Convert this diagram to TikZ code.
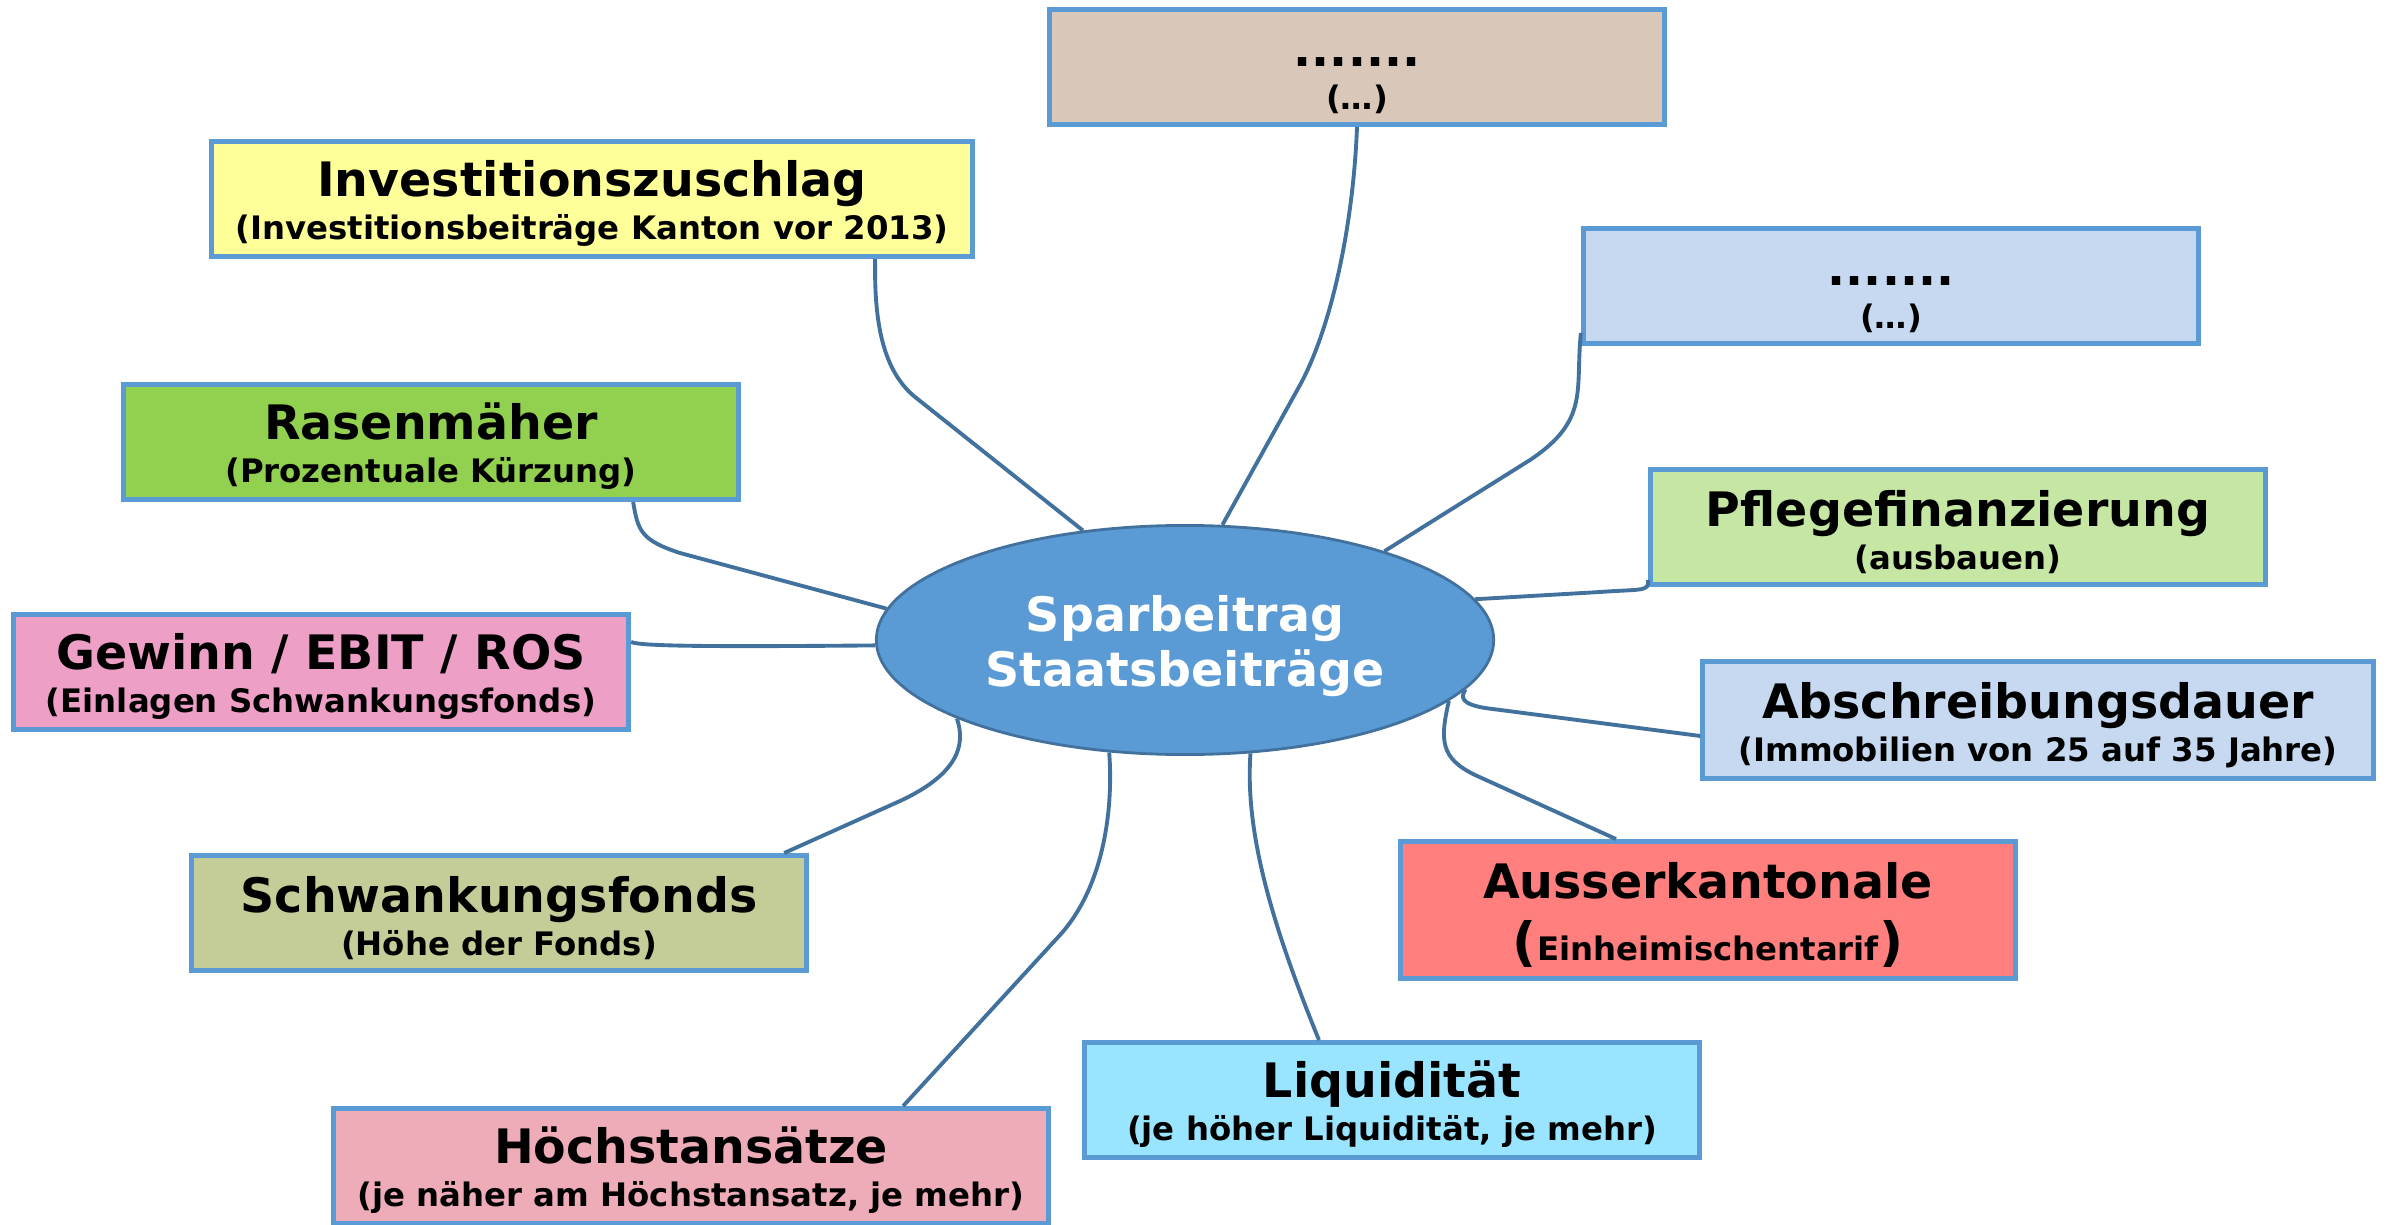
\documentclass[tikz,border=0pt]{standalone}
\usepackage{fontspec}
\setmainfont{DejaVu Sans}
\usepackage{tikz}
\usetikzlibrary{shapes.geometric}
\definecolor{boxblue}{HTML}{5B9BD5}
\definecolor{linkblue}{HTML}{41719C}
\definecolor{hubblue}{HTML}{5B9BD5}
\definecolor{brownbox}{HTML}{D9C7B9}
\definecolor{yellowbox}{HTML}{FFFF99}
\definecolor{paleblue}{HTML}{C6D9F0}
\definecolor{grassgreen}{HTML}{92D050}
\definecolor{palegreen}{HTML}{C6E6A4}
\definecolor{rosebox}{HTML}{EE9FC6}
\definecolor{olivebox}{HTML}{C4CD97}
\definecolor{redbox}{HTML}{FF7F7F}
\definecolor{cyanbox}{HTML}{99E5FF}
\definecolor{pinkbox}{HTML}{EDACB7}
\newcommand{\headline}[1]{{\fontsize{13.5}{14}\selectfont\rule{0pt}{13pt}#1}}
\newcommand{\bigparen}[1]{{\fontsize{15}{15}\selectfont #1}}
\tikzset{
    topic/.style={draw=boxblue, line width=1.4pt, align=center, inner sep=0pt,
        minimum width=6.15cm, minimum height=1.15cm,
        font=\fontsize{9.2}{12.2}\selectfont\bfseries},
    hub/.style={ellipse, draw=linkblue, line width=0.8pt, fill=hubblue, text=white,
        minimum width=6.17cm, minimum height=2.29cm, inner sep=0pt, align=center,
        font=\fontsize{13.5}{15.9}\selectfont\bfseries},
    link/.style={draw=linkblue, line width=1.1pt},
}

\begin{document}
\begin{tikzpicture}[x=0.01cm, y=-0.01cm]
\useasboundingbox (0,0) rectangle (2392,1225);
\node[hub] (spar) at (1185,640) {\rule{0pt}{13.7pt}Sparbeitrag\\Staatsbeiträge};
\node[topic, fill=brownbox] (dotsA) at (1357,67) {\headline{.......}\\(…)};
\node[topic, fill=yellowbox, minimum width=7.6cm] (invest) at (592,199) {\headline{Investitionszuschlag}\\(Investitionsbeiträge Kanton vor 2013)};
\node[topic, fill=paleblue] (dotsB) at (1891,286) {\headline{.......}\\(…)};
\node[topic, fill=grassgreen] (rasen) at (431,442) {\headline{Rasenmäher}\\(Prozentuale Kürzung)};
\node[topic, fill=palegreen] (pflege) at (1958,527) {\headline{Pflegefinanzierung}\\(ausbauen)};
\node[topic, fill=rosebox] (gewinn) at (321,672) {\headline{Gewinn / EBIT / ROS}\\(Einlagen Schwankungsfonds)};
\node[topic, fill=paleblue, minimum width=6.7cm, minimum height=1.17cm] (abschr) at (2038,720) {\headline{Abschreibungsdauer}\\(Immobilien von 25 auf 35 Jahre)};
\node[topic, fill=olivebox] (schwank) at (499,913) {\headline{Schwankungsfonds}\\(Höhe der Fonds)};
\node[topic, fill=redbox, minimum height=1.37cm] (ausser) at (1708,910) {\headline{Ausserkantonale}\\[5.4pt]\bigparen{(}Einheimischentarif\bigparen{)}};
\node[topic, fill=cyanbox] (liqui) at (1392,1100) {\headline{Liquidität}\\(je höher Liquidität, je mehr)};
\node[topic, fill=pinkbox, minimum width=7.15cm] (hoechst) at (691,1166) {\headline{Höchstansätze}\\(je näher am Höchstansatz, je mehr)};

\draw[link] ([xshift=2.83cm]invest.south) .. controls (874,320) and (882,370) .. (915,397) -- (spar.133);
\draw[link] (dotsA.south) .. controls (1353,230) and (1330,330) .. (1300,385) -- (spar.72);
\draw[link] ([yshift=0.13cm]dotsB.south west) .. controls (1575,390) and (1590,420) .. (1530,460) -- (spar.24);
\draw[link] ([xshift=2.02cm]rasen.south) .. controls (638,530) and (640,540) .. (680,553) -- (spar.174);
\draw[link] ([yshift=0.3cm]gewinn.east) .. controls (640,646) and (700,647) .. (spar.181.7);
\draw[link] ([yshift=0.07cm]pflege.south west) .. controls (1650,592) and (1640,589) .. (1600,592) -- (spar.8);
\draw[link] ([yshift=-0.16cm]abschr.west) -- (1485,708) .. controls (1462,704) and (1460,698) .. (spar.-10.4);
\draw[link] ([xshift=-0.92cm]ausser.north) -- (1475,775) .. controls (1440,758) and (1440,740) .. (spar.-13.7);
\draw[link] ([xshift=-0.73cm]liqui.north) .. controls (1270,920) and (1245,830) .. (spar.-60.5);
\draw[link] ([xshift=2.12cm]hoechst.north) -- (1060,935) .. controls (1107,883) and (1113,800) .. (spar.-124.4);
\draw[link] ([xshift=2.85cm]schwank.north) -- (900,801) .. controls (958,774) and (966,745) .. (spar.-161.1);
\end{tikzpicture}
\end{document}
